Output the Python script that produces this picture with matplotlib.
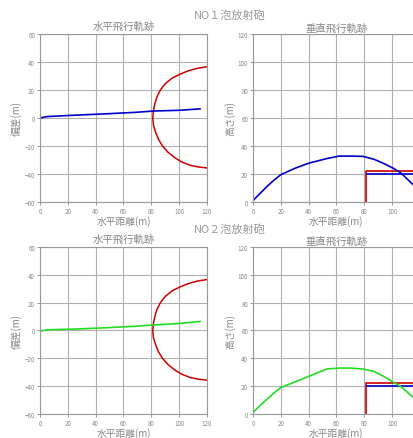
import numpy as np
import matplotlib
matplotlib.use("Agg")
import matplotlib.pyplot as plt

plt.rcParams['font.family'] = ['Noto Sans CJK JP', 'DejaVu Sans']

# horizontal track (x distance, lateral deviation)
h_x = [0, 5, 25, 48, 68, 82, 100, 115]
h1_y = [0, 1, 2, 3, 4, 5, 5.5, 6.5]
h2_y = [-0.5, 0.5, 1, 2, 3, 4, 5, 6.5]

# red boundary arc in the horizontal view
arc_x = [120, 113, 106, 100, 95, 90, 86.5, 84, 82.5, 81.5, 81, 81.5, 83, 85,
         88, 92, 97, 102, 108, 114, 120]
arc_y = [36.6, 35.5, 33.5, 31, 28.5, 24.5, 20, 15, 10, 5, 0, -5, -10, -15,
         -20, -24.5, -28.5, -31.5, -33.8, -35, -35.7]

# vertical track (x distance, height)
v_x = [0, 5, 10, 15, 20, 30, 40, 53, 62, 70, 79, 87, 94, 101, 106, 114.6]
v1_y = [1, 6, 11, 15.5, 19.5, 24, 27.7, 31, 32.8, 32.8, 32.6, 30.5, 27.5, 24, 21, 12.8]
v2_y = [1, 6, 10.5, 15, 19, 23, 27, 32.3, 33, 33, 32.3, 30.6, 27, 22.7, 20, 12.4]

# target box
box_x = [81, 81, 125]
box_y = [0, 22, 22]
line_x = [82, 125]
line_y = [20, 20]

blue = '#0000cc'
red = '#cc0000'
green = '#22dd22'
gray = '#888888'

fig = plt.figure(figsize=(4.14, 4.39), dpi=100)
W = 0.4034
positions = [
    [0.0966, 0.5376, W, 0.3827],
    [0.611, 0.5376, W, 0.3827],
    [0.0966, 0.0547, W, 0.3804],
    [0.611, 0.0547, W, 0.3804],
]


def style(ax, ylo, yhi):
    ax.set_xlim(0, 120)
    ax.set_ylim(ylo, yhi)
    ax.set_xticks(np.arange(0, 121, 20))
    ax.set_yticks(np.arange(ylo, yhi + 1, 20))
    ax.grid(True, color='#b0b0b0', linewidth=0.8)
    ax.tick_params(labelsize=4.5, colors=gray, length=2, width=0.6, pad=1.5)
    for s in ax.spines.values():
        s.set_color('#999999')
        s.set_linewidth(0.8)
    ax.set_xlabel('水平距離(m)', fontsize=7, color=gray, labelpad=0)


for row, (hy, vy, col, no) in enumerate([(h1_y, v1_y, blue, 'NO１泡放射砲'),
                                          (h2_y, v2_y, green, 'NO２泡放射砲')]):
    ax1 = fig.add_axes(positions[row * 2])
    style(ax1, -60, 60)
    ax1.plot(arc_x, arc_y, color=red, linewidth=1.1)
    ax1.plot(h_x, hy, color=col, linewidth=1.2)
    ax1.set_ylabel('偏差(m)', fontsize=7, color=gray, labelpad=2)
    ax1.set_title('水平飛行軌跡', fontsize=7.5, color=gray, pad=4)

    ax2 = fig.add_axes(positions[row * 2 + 1])
    style(ax2, 0, 120)
    ax2.plot(box_x, box_y, color=red, linewidth=1.2, clip_on=True)
    ax2.plot(line_x, line_y, color=blue, linewidth=1.2)
    ax2.plot(v_x, vy, color=col, linewidth=1.2)
    ax2.set_ylabel('高さ(m)', fontsize=7, color=gray, labelpad=2)
    ax2.set_title('垂直飛行軌跡', fontsize=7.5, color=gray, pad=2)

    ty = 1 - 16 / 439 if row == 0 else 1 - 230 / 439
    fig.text(0.555, ty, no, fontsize=8, color='#999999', ha='center', va='center')

fig.savefig('out.png', dpi=100)
